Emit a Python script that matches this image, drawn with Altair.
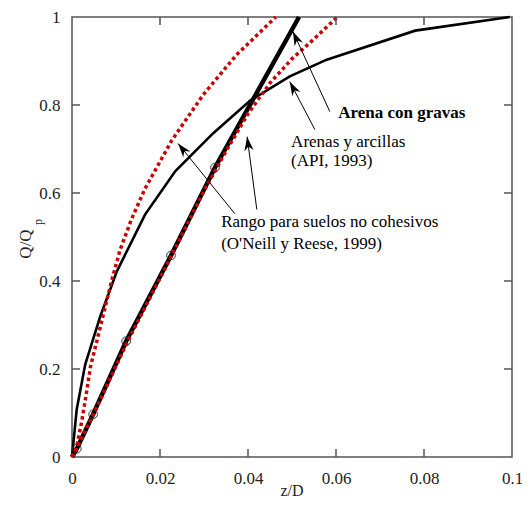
import math
import altair as alt
import pandas as pd

W, H = 440, 440
XMAX, YMAX = 0.1, 1.0
FONT = "'Liberation Serif', 'Times New Roman', 'DejaVu Serif', serif"
AX = "#555555"
TL = 8

# --- data ---
api_x = [0, 0.00107, 0.0030, 0.0064, 0.0102, 0.0166, 0.0235, 0.0321, 0.0405, 0.0495, 0.0579, 0.0780, 0.0995]
api_y = [0, 0.108, 0.210, 0.319, 0.422, 0.551, 0.650, 0.736, 0.810, 0.865, 0.903, 0.969, 1.0]

grav_x = [0, 0.0011, 0.0048, 0.0123, 0.0225, 0.0325, 0.0516]
grav_y = [0, 0.019, 0.097, 0.263, 0.458, 0.658, 1.0]
circ_x = [0.0011, 0.0048, 0.0123, 0.0225, 0.0325]
circ_y = [0.019, 0.097, 0.263, 0.458, 0.658]

up_x = [0, 0.0010, 0.0022, 0.0031, 0.0042, 0.0056, 0.0071, 0.0090, 0.0109, 0.0135, 0.0166, 0.0227, 0.0298, 0.0374, 0.0463]
up_y = [0, 0.02, 0.08, 0.134, 0.205, 0.262, 0.323, 0.40, 0.47, 0.54, 0.61, 0.72, 0.823, 0.914, 1.0]

lo_x = [0, 0.0011, 0.0050, 0.0125, 0.0225, 0.0300, 0.0350, 0.0400, 0.0450, 0.0500, 0.0550, 0.0603]
lo_y = [0, 0.02, 0.10, 0.26, 0.455, 0.605, 0.695, 0.78, 0.85, 0.905, 0.95, 1.0]

x_ticks = [0, 0.02, 0.04, 0.06, 0.08, 0.1]
y_ticks = [0, 0.2, 0.4, 0.6, 0.8, 1.0]
x_inner = [0.02, 0.04, 0.06, 0.08]
y_inner = [0.2, 0.4, 0.6, 0.8]

arr_tail_x = [0.0586, 0.0552, 0.0370, 0.0420]
arr_tail_y = [0.785, 0.744, 0.553, 0.5625]
arr_head_x = [0.0502, 0.0495, 0.0241, 0.0398]
arr_head_y = [0.967, 0.853, 0.7125, 0.728]

lab_text = ["Arena con gravas", "Arenas y arcillas", "(API, 1993)",
            "Rango para suelos no cohesivos", "(O'Neill y Reese, 1999)"]
lab_x = [0.0605, 0.0498, 0.0498, 0.0339, 0.0339]
lab_y = [0.781, 0.717, 0.672, 0.535, 0.485]
lab_bold = [True, False, False, False, False]

# --- scales / axes ---
xs = alt.Scale(domain=[0, XMAX], nice=False, zero=True)
ys = alt.Scale(domain=[0, YMAX], nice=False, zero=True)
x_axis = alt.Axis(values=x_ticks, format="~g", title=None, ticks=False, domain=False, grid=False,
                  labelFont=FONT, labelFontSize=17, labelColor="#222222", labelPadding=13,
                  labelFlush=False, labelOverlap=False)
y_axis = alt.Axis(values=y_ticks, format="~g", title=None, ticks=False, domain=False, grid=False,
                  labelFont=FONT, labelFontSize=17, labelColor="#222222", labelPadding=12,
                  labelFlush=False, labelOverlap=False)


def X(f="x"):
    return alt.X(f"{f}:Q", scale=xs, axis=x_axis)


def Y(f="y"):
    return alt.Y(f"{f}:Q", scale=ys, axis=y_axis)


def line(xv, yv, **kw):
    df = pd.DataFrame({"x": xv, "y": yv, "i": list(range(len(xv)))})
    return alt.Chart(df).mark_line(**kw).encode(x=X(), y=Y(), order=alt.Order("i:Q"))


layers = []
layers.append(line(api_x, api_y, color="black", strokeWidth=2.6))
layers.append(line(grav_x, grav_y, color="black", strokeWidth=4.5))
layers.append(alt.Chart(pd.DataFrame({"x": circ_x, "y": circ_y})).mark_point(
    shape="circle", size=75, filled=False, color="#333333", strokeWidth=1, opacity=1
).encode(x=X(), y=Y()))
layers.append(line(up_x, up_y, color="#cc0000", strokeWidth=3.5, strokeDash=[3.5, 3], strokeCap="butt"))
layers.append(line(lo_x, lo_y, color="#cc0000", strokeWidth=3.5, strokeDash=[3.5, 3], strokeCap="butt"))

# inward ticks on all four sides
dxt = pd.DataFrame({"v": x_inner})
dyt = pd.DataFrame({"v": y_inner})
layers.append(alt.Chart(dxt).mark_rule(color=AX, strokeWidth=1.5).encode(
    x=alt.X("v:Q", scale=xs, axis=x_axis), y=alt.value(H), y2=alt.value(H - TL)))
layers.append(alt.Chart(dxt).mark_rule(color=AX, strokeWidth=1.5).encode(
    x=alt.X("v:Q", scale=xs, axis=x_axis), y=alt.value(0), y2=alt.value(TL)))
layers.append(alt.Chart(dyt).mark_rule(color=AX, strokeWidth=1.5).encode(
    y=alt.Y("v:Q", scale=ys, axis=y_axis), x=alt.value(0), x2=alt.value(TL)))
layers.append(alt.Chart(dyt).mark_rule(color=AX, strokeWidth=1.5).encode(
    y=alt.Y("v:Q", scale=ys, axis=y_axis), x=alt.value(W), x2=alt.value(W - TL)))

# arrows
seg_rows = []
head_rows = []
for k in range(len(arr_tail_x)):
    seg_rows.append({"x": arr_tail_x[k], "y": arr_tail_y[k], "a": k, "i": 0})
    seg_rows.append({"x": arr_head_x[k], "y": arr_head_y[k], "a": k, "i": 1})
    dx = (arr_head_x[k] - arr_tail_x[k]) / XMAX * W
    dy = -(arr_head_y[k] - arr_tail_y[k]) / YMAX * H
    ang = math.degrees(math.atan2(dx, -dy)) % 360
    head_rows.append({"x": arr_head_x[k], "y": arr_head_y[k], "ang": ang})

layers.append(alt.Chart(pd.DataFrame(seg_rows)).mark_line(color="black", strokeWidth=1).encode(
    x=X(), y=Y(), detail="a:N", order=alt.Order("i:Q")))
layers.append(alt.Chart(pd.DataFrame(head_rows)).mark_point(
    shape="M0,0L0.75,2.3L0,1.6L-0.75,2.3Z", size=150, filled=True, color="black", opacity=1, strokeWidth=0
).encode(x=X(), y=Y(), angle=alt.Angle("ang:Q", scale=None)))

# annotation labels
labdf = pd.DataFrame({"t": lab_text, "x": lab_x, "y": lab_y, "b": lab_bold})
layers.append(alt.Chart(labdf[labdf.b]).mark_text(
    font=FONT, fontSize=17, fontWeight="bold", align="left", baseline="middle", color="black"
).encode(x=X(), y=Y(), text="t:N"))
layers.append(alt.Chart(labdf[~labdf.b]).mark_text(
    font=FONT, fontSize=17, align="left", baseline="middle", color="black"
).encode(x=X(), y=Y(), text="t:N"))

# axis titles
tdf = pd.DataFrame({"t": ["z/D"]})
layers.append(alt.Chart(tdf).mark_text(font=FONT, fontSize=16, align="center", baseline="middle",
                                       color="#222222").encode(
    text="t:N", x=alt.value(W / 2), y=alt.value(H + 34)))
layers.append(alt.Chart(pd.DataFrame({"t": ["Q/Q"]})).mark_text(
    font=FONT, fontSize=17, align="center", baseline="middle", angle=270, color="#222222").encode(
    text="t:N", x=alt.value(-46), y=alt.value(227)))
layers.append(alt.Chart(pd.DataFrame({"t": ["p"]})).mark_text(
    font=FONT, fontSize=12, align="center", baseline="middle", angle=270, color="#222222").encode(
    text="t:N", x=alt.value(-34), y=alt.value(205)))

chart = alt.layer(*layers).properties(
    width=W, height=H,
    padding={"left": 64, "top": 9, "right": 10, "bottom": 41},
    autosize=alt.AutoSizeParams(type="none"),
).configure_view(stroke=AX, strokeWidth=1.5)

chart.save("out.html", embed_options={"renderer": "svg", "actions": False})
